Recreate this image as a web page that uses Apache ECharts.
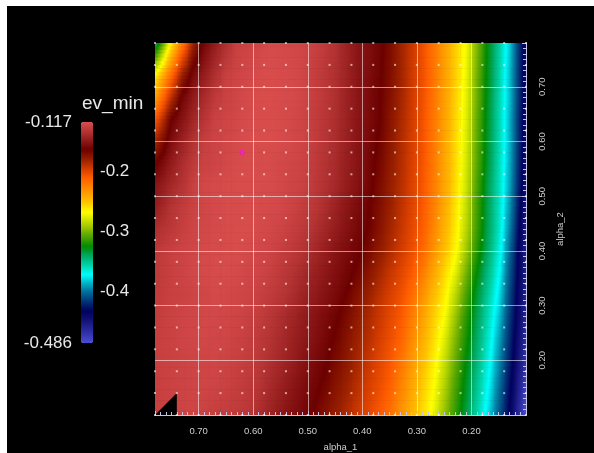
<!DOCTYPE html>
<html>
<head>
<meta charset="utf-8">
<script src="https://cdn.jsdelivr.net/npm/echarts@6/dist/echarts.min.js"></script>
<style>
html,body{margin:0;padding:0;background:#ffffff;width:594px;height:453px;overflow:hidden;}
#main{position:absolute;left:7px;top:6px;width:587px;height:447px;background:#000;}
</style>
</head>
<body>
<div id="main"></div>
<script>
// cell centres (alpha_1 ascending, alpha_2 ascending)
const alpha1 = [0.11,0.13,0.15,0.17,0.19,0.21,0.23,0.25,0.27,0.29,0.31,0.33,0.35,0.37,0.39,0.41,0.43,0.45,0.47,0.49,0.51,0.53,0.55,0.57,0.59,0.61,0.63,0.65,0.67,0.69,0.71,0.73,0.75,0.77];
const alpha2 = [0.12,0.16,0.20,0.24,0.28,0.32,0.36,0.40,0.44,0.48,0.52,0.56,0.60,0.64,0.68,0.72,0.76];

// ev_min values, one row per alpha_2 value
const ev_b12 = [-0.467,-0.432,-0.403,-0.375,-0.354,-0.333,-0.312,-0.291,-0.270,-0.256,-0.242,-0.229,-0.215,-0.206,-0.198,-0.191,-0.183,-0.176,-0.169,-0.162,-0.157,-0.152,-0.147,-0.141,-0.135,-0.130,-0.128,-0.126,-0.125,-0.123,-0.122,-0.123,-0.124,-0.125];
const ev_b16 = [-0.461,-0.428,-0.398,-0.370,-0.350,-0.329,-0.308,-0.286,-0.266,-0.252,-0.238,-0.224,-0.210,-0.202,-0.195,-0.187,-0.179,-0.172,-0.164,-0.159,-0.154,-0.149,-0.143,-0.138,-0.132,-0.129,-0.126,-0.124,-0.122,-0.121,-0.122,-0.123,-0.124,-0.125];
const ev_b20 = [-0.455,-0.423,-0.393,-0.366,-0.345,-0.325,-0.303,-0.281,-0.262,-0.248,-0.233,-0.219,-0.207,-0.199,-0.191,-0.183,-0.175,-0.168,-0.161,-0.156,-0.151,-0.145,-0.140,-0.135,-0.130,-0.127,-0.125,-0.123,-0.121,-0.122,-0.122,-0.123,-0.124,-0.125];
const ev_b24 = [-0.451,-0.419,-0.388,-0.362,-0.341,-0.320,-0.298,-0.275,-0.257,-0.242,-0.227,-0.212,-0.203,-0.195,-0.187,-0.180,-0.172,-0.164,-0.158,-0.153,-0.148,-0.143,-0.138,-0.133,-0.129,-0.126,-0.124,-0.121,-0.121,-0.120,-0.121,-0.122,-0.124,-0.125];
const ev_b28 = [-0.447,-0.415,-0.382,-0.358,-0.337,-0.316,-0.292,-0.268,-0.253,-0.237,-0.222,-0.208,-0.200,-0.192,-0.184,-0.176,-0.168,-0.161,-0.156,-0.151,-0.146,-0.141,-0.136,-0.131,-0.127,-0.125,-0.122,-0.121,-0.120,-0.120,-0.121,-0.122,-0.124,-0.126];
const ev_b32 = [-0.444,-0.411,-0.376,-0.353,-0.332,-0.309,-0.284,-0.262,-0.247,-0.231,-0.215,-0.204,-0.196,-0.188,-0.179,-0.171,-0.163,-0.157,-0.152,-0.147,-0.142,-0.136,-0.131,-0.128,-0.125,-0.122,-0.121,-0.120,-0.119,-0.121,-0.122,-0.124,-0.125,-0.127];
const ev_b36 = [-0.441,-0.407,-0.370,-0.347,-0.325,-0.300,-0.274,-0.256,-0.239,-0.222,-0.208,-0.199,-0.191,-0.182,-0.173,-0.165,-0.159,-0.154,-0.149,-0.144,-0.138,-0.133,-0.129,-0.125,-0.122,-0.121,-0.119,-0.118,-0.118,-0.119,-0.120,-0.123,-0.125,-0.128];
const ev_b40 = [-0.440,-0.402,-0.365,-0.341,-0.317,-0.291,-0.265,-0.248,-0.231,-0.214,-0.203,-0.194,-0.185,-0.176,-0.167,-0.161,-0.156,-0.151,-0.145,-0.139,-0.133,-0.129,-0.126,-0.122,-0.120,-0.119,-0.117,-0.118,-0.118,-0.119,-0.121,-0.123,-0.125,-0.128];
const ev_b44 = [-0.436,-0.396,-0.361,-0.338,-0.312,-0.285,-0.261,-0.244,-0.226,-0.210,-0.200,-0.191,-0.182,-0.172,-0.163,-0.158,-0.152,-0.146,-0.140,-0.134,-0.129,-0.126,-0.122,-0.120,-0.119,-0.117,-0.117,-0.118,-0.119,-0.120,-0.122,-0.126,-0.130,-0.134];
const ev_b48 = [-0.432,-0.392,-0.360,-0.337,-0.311,-0.282,-0.259,-0.241,-0.223,-0.208,-0.198,-0.189,-0.179,-0.170,-0.162,-0.156,-0.150,-0.143,-0.136,-0.130,-0.127,-0.123,-0.120,-0.119,-0.118,-0.117,-0.118,-0.118,-0.119,-0.121,-0.124,-0.128,-0.133,-0.142];
const ev_b52 = [-0.428,-0.389,-0.359,-0.336,-0.309,-0.280,-0.257,-0.239,-0.222,-0.207,-0.197,-0.187,-0.178,-0.168,-0.159,-0.152,-0.146,-0.139,-0.134,-0.129,-0.124,-0.122,-0.120,-0.118,-0.118,-0.117,-0.117,-0.118,-0.119,-0.120,-0.125,-0.133,-0.140,-0.148];
const ev_b56 = [-0.426,-0.387,-0.358,-0.333,-0.306,-0.278,-0.256,-0.239,-0.221,-0.206,-0.196,-0.186,-0.176,-0.166,-0.158,-0.151,-0.145,-0.138,-0.133,-0.128,-0.123,-0.121,-0.120,-0.118,-0.118,-0.117,-0.118,-0.120,-0.122,-0.124,-0.129,-0.137,-0.147,-0.159];
const ev_b60 = [-0.424,-0.386,-0.356,-0.332,-0.305,-0.277,-0.256,-0.238,-0.220,-0.205,-0.195,-0.185,-0.174,-0.164,-0.157,-0.151,-0.144,-0.137,-0.132,-0.127,-0.122,-0.120,-0.118,-0.117,-0.117,-0.117,-0.119,-0.121,-0.123,-0.126,-0.134,-0.144,-0.155,-0.174];
const ev_b64 = [-0.424,-0.386,-0.356,-0.331,-0.304,-0.275,-0.255,-0.237,-0.220,-0.205,-0.194,-0.184,-0.173,-0.162,-0.156,-0.150,-0.143,-0.136,-0.131,-0.127,-0.122,-0.120,-0.118,-0.117,-0.117,-0.118,-0.120,-0.122,-0.124,-0.132,-0.141,-0.152,-0.163,-0.194];
const ev_b68 = [-0.422,-0.384,-0.355,-0.330,-0.302,-0.274,-0.254,-0.236,-0.219,-0.204,-0.193,-0.182,-0.171,-0.162,-0.156,-0.150,-0.143,-0.135,-0.130,-0.126,-0.121,-0.119,-0.118,-0.117,-0.117,-0.119,-0.121,-0.124,-0.129,-0.138,-0.148,-0.160,-0.188,-0.222];
const ev_b72 = [-0.422,-0.384,-0.354,-0.329,-0.301,-0.272,-0.253,-0.236,-0.219,-0.204,-0.193,-0.181,-0.170,-0.161,-0.155,-0.150,-0.142,-0.135,-0.130,-0.126,-0.121,-0.119,-0.118,-0.117,-0.118,-0.120,-0.122,-0.125,-0.135,-0.146,-0.157,-0.179,-0.215,-0.249];
const ev_b76 = [-0.422,-0.382,-0.353,-0.328,-0.299,-0.271,-0.253,-0.236,-0.219,-0.204,-0.192,-0.181,-0.169,-0.160,-0.155,-0.150,-0.142,-0.134,-0.129,-0.125,-0.121,-0.120,-0.119,-0.118,-0.120,-0.122,-0.124,-0.132,-0.143,-0.155,-0.173,-0.208,-0.247,-0.295];
const evRows = [ev_b12,ev_b16,ev_b20,ev_b24,ev_b28,ev_b32,ev_b36,ev_b40,ev_b44,ev_b48,ev_b52,ev_b56,ev_b60,ev_b64,ev_b68,ev_b72,ev_b76];

// sample points (mesh vertices) and the marked point
const sampleA1 = [0.10,0.14,0.18,0.22,0.26,0.30,0.34,0.38,0.42,0.46,0.50,0.54,0.58,0.62,0.66,0.70,0.74,0.78];
const sampleA2 = [0.10,0.14,0.18,0.22,0.26,0.30,0.34,0.38,0.42,0.46,0.50,0.54,0.58,0.62,0.66,0.70,0.74,0.78];
const maxPoint = [0.62, 0.58];
// missing mesh triangle (bottom-left)
const missingCell = [[0.78,0.10],[0.74,0.10],[0.74,0.14]];

// colour bar
const evRange = [-0.486, -0.117];
const colorbarTicks = [-0.2, -0.3, -0.4];
const colorbarEnds = [-0.117, -0.486];
const axisRange = [0.10, 0.78];

// colour map stops
const cmapStops = [
  [-0.486,'#4b4bd6'],[-0.465,'#2a2aa0'],[-0.445,'#0e0e70'],[-0.432,'#00005e'],
  [-0.415,'#003a7a'],[-0.400,'#00709c'],[-0.385,'#00b8c8'],[-0.372,'#00ffff'],
  [-0.358,'#00d8b0'],[-0.340,'#00a860'],[-0.325,'#008a00'],[-0.305,'#60aa00'],
  [-0.290,'#a8cc00'],[-0.268,'#ffff00'],[-0.250,'#ffc000'],[-0.235,'#ff9a00'],
  [-0.210,'#ff5c00'],[-0.195,'#d43c00'],[-0.180,'#9a2000'],[-0.163,'#6c0000'],
  [-0.150,'#8c1616'],[-0.135,'#b03030'],[-0.125,'#c84040'],[-0.117,'#d84c4c']
];
function hexToRgb(h){return [parseInt(h.slice(1,3),16),parseInt(h.slice(3,5),16),parseInt(h.slice(5,7),16)];}
function cmap(v){
  if(v<=cmapStops[0][0]) return cmapStops[0][1];
  for(let i=1;i<cmapStops.length;i++){
    if(v<=cmapStops[i][0]){
      const a=cmapStops[i-1], b=cmapStops[i];
      const t=(v-a[0])/(b[0]-a[0]);
      const ca=hexToRgb(a[1]), cb=hexToRgb(b[1]);
      const c=ca.map((x,k)=>Math.round(x+(cb[k]-x)*t));
      return 'rgb('+c.join(',')+')';
    }
  }
  return cmapStops[cmapStops.length-1][1];
}
const palette=[];
for(let k=0;k<120;k++){palette.push(cmap(evRange[0]+(evRange[1]-evRange[0])*k/119));}

// shading helpers (Gouraud-like shading of the cells at draw time)
const NC=alpha1.length, NR=alpha2.length;
function cell(ci,rj){
  if(rj<0) return 2*cell(ci,0)-cell(ci,1);
  if(rj>NR-1) return 2*cell(ci,NR-1)-cell(ci,NR-2);
  if(ci<0) return 2*cell(0,rj)-cell(1,rj);
  if(ci>NC-1) return 2*cell(NC-1,rj)-cell(NC-2,rj);
  return evRows[rj][ci];
}
function cellR(ci,r){
  let r0=Math.floor(r); if(r0<0) r0=0; if(r0>NR-2) r0=NR-2;
  const t=r-r0;
  return cell(ci,r0)*(1-t)+cell(ci,r0+1)*t;
}
function clampV(v){return Math.max(evRange[0],Math.min(evRange[1],v));}

const cellData=[];
alpha2.forEach((b,j)=>{alpha1.forEach((a,i)=>{cellData.push([a,b,evRows[j][i],i,j]);});});
const dotData=[];
sampleA2.forEach(b=>{sampleA1.forEach(a=>{dotData.push([a,b]);});});

const FONT='Liberation Sans, Arial, sans-serif';
const HALF_W=0.01, HALF_H=0.02, STRIPS=6, GSTOPS=10;
const chart=echarts.init(document.getElementById('main'),null,{renderer:'canvas'});
const axisCommon={
  type:'value', min:axisRange[0], max:axisRange[1], interval:0.1, z:5,
  axisLine:{show:true,lineStyle:{color:'#c4c4e6',width:1}},
  axisTick:{show:true,inside:true,length:4,lineStyle:{color:'#c4c4e6'}},
  minorTick:{show:true,splitNumber:10,length:3,lineStyle:{color:'#c4c4e6'}},
  splitLine:{show:true,showMinLine:false,showMaxLine:false,lineStyle:{color:'rgba(255,255,255,0.55)',width:1}},
  axisLabel:{show:true,showMinLabel:false,showMaxLabel:false,color:'#cfcfcf',fontSize:9.5,fontFamily:FONT,formatter:v=>v.toFixed(2)},
  nameLocation:'middle', nameTextStyle:{color:'#cfcfcf',fontSize:9.5,fontFamily:FONT}
};
const option={
  backgroundColor:'#000',
  animation:false,
  title:{text:'ev_min',left:75,top:88,padding:0,textStyle:{color:'#e8e8e8',fontSize:19,fontWeight:'normal',fontFamily:FONT}},
  grid:[
    {left:148,top:37,width:371,height:372,outerBoundsMode:'none',containLabel:false},
    {left:74,top:116,width:12,height:221,outerBoundsMode:'none',containLabel:false}
  ],
  xAxis:[
    Object.assign({},axisCommon,{gridIndex:0,inverse:true,position:'bottom',name:'alpha_1',nameGap:27,
      axisLabel:Object.assign({},axisCommon.axisLabel,{margin:11})}),
    {type:'value',gridIndex:1,show:false,min:0,max:1}
  ],
  yAxis:[
    Object.assign({},axisCommon,{gridIndex:0,position:'right',name:'alpha_2',nameGap:27,nameRotate:90,
      axisLabel:Object.assign({},axisCommon.axisLabel,{rotate:90,margin:11})}),
    {type:'value',gridIndex:1,position:'right',min:evRange[0],max:evRange[1],
      axisLine:{show:false},splitLine:{show:false},
      axisTick:{show:true,length:5,lineStyle:{color:'#8a8a8a'},
        customValues:(function(){const t=[];for(let k=-48;k<=-12;k++)t.push(k/100);return t;})()},
      axisLabel:{show:true,margin:7,color:'#e8e8e8',fontSize:17,fontFamily:FONT,customValues:colorbarTicks,formatter:v=>v.toFixed(1)}},
    {type:'value',gridIndex:1,position:'left',min:evRange[0],max:evRange[1],
      axisLine:{show:false},splitLine:{show:false},axisTick:{show:false},
      axisLabel:{show:true,margin:9,color:'#e8e8e8',fontSize:17,fontFamily:FONT,customValues:colorbarEnds,formatter:v=>v.toFixed(3)}}
  ],
  visualMap:{
    type:'continuous', min:evRange[0], max:evRange[1], dimension:2, seriesIndex:0,
    inRange:{color:palette}, orient:'vertical', left:74, top:116, itemWidth:12, itemHeight:221,
    padding:0, calculable:false, text:null, showLabel:false, hoverLink:false
  },
  series:[
    {type:'custom', name:'ev_min', xAxisIndex:0, yAxisIndex:0, z:2, clip:true,
      data:cellData,
      renderItem:function(params,api){
        const a=api.value(0), b=api.value(1), i=api.value(3), j=api.value(4);
        const pHi=api.coord([a+HALF_W,b+HALF_H]);   // pixel left/top (alpha_1 axis inverted)
        const pLo=api.coord([a-HALF_W,b-HALF_H]);   // pixel right/bottom
        const x0=Math.min(pHi[0],pLo[0]), x1=Math.max(pHi[0],pLo[0]);
        const y0=Math.min(pHi[1],pLo[1]), y1=Math.max(pHi[1],pLo[1]);
        const sh=(y1-y0)/STRIPS;
        const children=[];
        for(let k=0;k<STRIPS;k++){
          const r=j+0.5-(k+0.5)/STRIPS;      // fractional row index of this strip
          const vc=cellR(i,r);
          const vHi=(vc+cellR(i+1,r))/2;     // edge toward larger alpha_1 (pixel left)
          const vLo=(vc+cellR(i-1,r))/2;     // edge toward smaller alpha_1 (pixel right)
          const stops=[];
          for(let s=0;s<=GSTOPS;s++){
            const t=s/GSTOPS;
            const v=t<=0.5 ? vHi+(vc-vHi)*(t/0.5) : vc+(vLo-vc)*((t-0.5)/0.5);
            stops.push({offset:t,color:cmap(clampV(v))});
          }
          children.push({type:'rect',
            shape:{x:x0-0.3,y:y0+k*sh-0.3,width:x1-x0+0.6,height:sh+0.6},
            style:{fill:new echarts.graphic.LinearGradient(0,0,1,0,stops)}});
        }
        return {type:'group',children:children};
      }},
    {type:'custom', name:'missing', xAxisIndex:0, yAxisIndex:0, z:3, clip:true, data:[0],
      renderItem:function(params,api){
        return {type:'polygon',shape:{points:missingCell.map(p=>api.coord(p))},style:{fill:'#000'}};
      }},
    {type:'scatter', xAxisIndex:0, yAxisIndex:0, z:6, silent:true, symbol:'rect', symbolSize:2,
      itemStyle:{color:'rgba(255,255,255,0.75)'}, data:dotData},
    {type:'scatter', xAxisIndex:0, yAxisIndex:0, z:7, silent:true, symbol:'rect', symbolSize:4,
      itemStyle:{color:'#ff00ff'}, data:[maxPoint]}
  ]
};
chart.setOption(option);
</script>
</body>
</html>
